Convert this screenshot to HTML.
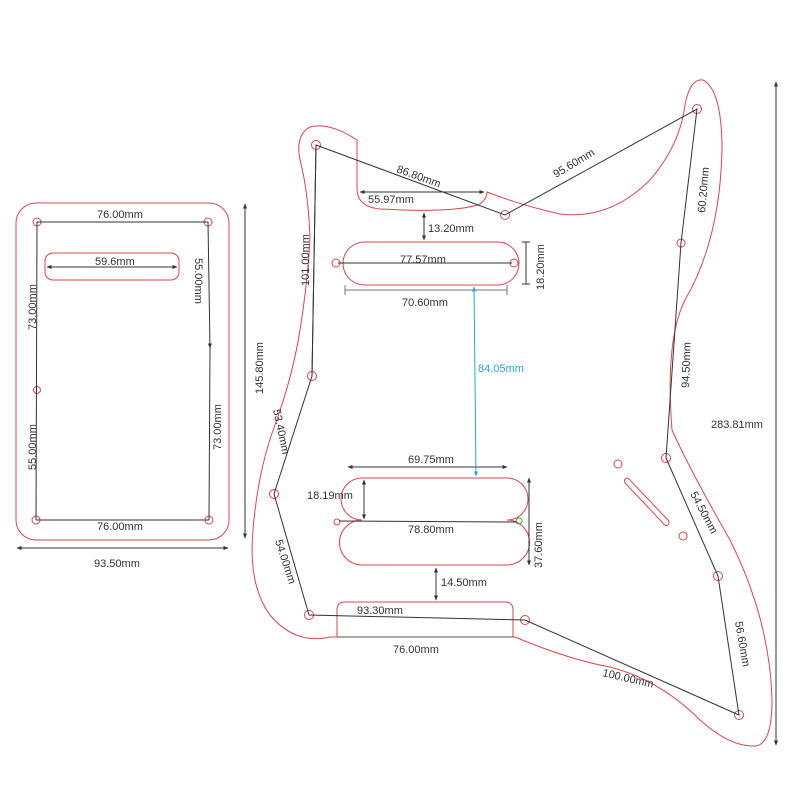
<!DOCTYPE html>
<html><head><meta charset="utf-8"><style>
html,body{margin:0;padding:0;background:#fff;width:800px;height:800px;overflow:hidden}
text{font-family:"Liberation Sans",sans-serif;font-size:11px;fill:#333}
</style></head><body>
<svg width="800" height="800" viewBox="0 0 800 800" xmlns="http://www.w3.org/2000/svg">
<defs>
<marker id="a" viewBox="0 0 10 10" refX="9" refY="5" markerWidth="5" markerHeight="5" orient="auto-start-reverse"><path d="M0,1 L10,5 L0,9z" fill="#333"/></marker>
<marker id="b" viewBox="0 0 10 10" refX="9" refY="5" markerWidth="5" markerHeight="5" orient="auto-start-reverse"><path d="M0,1 L10,5 L0,9z" fill="#2aa3d8"/></marker>
</defs>
<g fill="none" stroke="#d9474f" stroke-width="1">
<rect x="16" y="203" width="213" height="337" rx="20"/>
<rect x="45" y="253" width="134" height="27" rx="8"/>
<circle cx="37" cy="222" r="4"/><circle cx="208" cy="222" r="4"/><circle cx="36" cy="520" r="4"/><circle cx="209" cy="520" r="4"/><circle cx="37" cy="390" r="3.5"/>
<path d="M357,140 L357,190 Q358,207 380,209 Q450,213 478,205 Q487,200 487,192 Q520,205 560,214 Q610,220 650,180 Q680,145 685,105 Q690,78 703,80 Q722,90 722,150 Q720,240 685,300 Q665,340 672,430 Q690,470 730,540 Q770,620 772,700 Q772,745 755,746 Q730,747 700,720 Q660,680 610,667 Q570,660 515,637 L330,637 Q295,645 270,615 Q248,585 253,530 Q258,470 275,425 Q293,375 300,330 Q308,280 310,237 Q308,190 300,160 Q295,135 310,127 Q330,122 357,140 Z"/>
<rect x="343" y="242" width="176" height="43" rx="21.5"/>
<circle cx="336" cy="263" r="4"/><circle cx="514" cy="263" r="4"/>
<path d="M362,478 L507,478 A21,21 0 0 1 507,520 A21,21 0 0 1 507,565 L362,565 A21,21 0 0 1 362,520 A21,21 0 0 1 362,478 Z"/>
<circle cx="337" cy="522" r="3"/>
<path d="M337,637 L337,610 Q337,602 345,602 L505,602 Q513,602 513,610 L513,637"/>
<circle cx="316" cy="145" r="4.5"/><circle cx="505" cy="215" r="4.5"/><circle cx="697" cy="109" r="4.5"/><circle cx="681" cy="243" r="4"/>
<circle cx="312" cy="376" r="4.5"/><circle cx="274" cy="494" r="4.5"/><circle cx="309" cy="615" r="4.5"/><circle cx="525" cy="620" r="4.5"/>
<circle cx="666" cy="458" r="4.5"/><circle cx="718" cy="576" r="4.5"/><circle cx="739" cy="715" r="4.5"/>
<circle cx="618" cy="464" r="4"/><circle cx="683" cy="536" r="4"/>
<path d="M628,478 L666,518 Q671,522 668,525 Q665,527 662,522 L626,484 Q622,479 628,478 Z"/>
</g>
<circle cx="519" cy="521" r="3" fill="none" stroke="#3a3" stroke-width="1"/>
<g stroke="#333" stroke-width="1" fill="none">
<line x1="37" y1="222" x2="208" y2="222"/><line x1="36" y1="520" x2="209" y2="520"/>
<line x1="37" y1="222" x2="36" y2="520"/><line x1="208" y1="222" x2="210" y2="348" marker-end="url(#a)"/><line x1="210" y1="348" x2="209" y2="520"/>
<line x1="47" y1="267" x2="177" y2="267" marker-start="url(#a)" marker-end="url(#a)"/>
<line x1="245" y1="204" x2="245" y2="538" marker-start="url(#a)" marker-end="url(#a)"/>
<line x1="17" y1="548" x2="228" y2="548" marker-start="url(#a)" marker-end="url(#a)"/>
<path d="M316,145 L505,215 L697,109 L681,243 L666,458 L718,576 L739,715 L525,620 L309,615 L274,494 L312,376 Z"/>
<line x1="316" y1="145" x2="312" y2="376"/>
<line x1="360" y1="192" x2="484" y2="192" marker-start="url(#a)" marker-end="url(#a)"/>
<line x1="424" y1="213" x2="424" y2="240" marker-start="url(#a)" marker-end="url(#a)"/>
<line x1="338" y1="263" x2="512" y2="263"/>
<line x1="526" y1="242" x2="526" y2="284"/><line x1="522" y1="242" x2="530" y2="242"/><line x1="522" y1="284" x2="530" y2="284"/>
<line x1="345" y1="290" x2="507" y2="290" stroke="#777"/><line x1="345" y1="285" x2="345" y2="295" stroke="#777"/><line x1="507" y1="285" x2="507" y2="295" stroke="#777"/>
<line x1="348" y1="467" x2="507" y2="467" marker-start="url(#a)" marker-end="url(#a)"/>
<line x1="364" y1="480" x2="364" y2="519" marker-start="url(#a)" marker-end="url(#a)"/>
<line x1="339" y1="521" x2="517" y2="522"/>
<line x1="529" y1="478" x2="529" y2="565" marker-start="url(#a)" marker-end="url(#a)"/>
<line x1="436" y1="568" x2="436" y2="600" marker-start="url(#a)" marker-end="url(#a)"/>
<line x1="337" y1="637" x2="513" y2="637" stroke="#555"/>
<line x1="776" y1="82" x2="776" y2="745" marker-start="url(#a)" marker-end="url(#a)"/>
</g>
<line x1="474" y1="287" x2="476" y2="476" stroke="#2aa3d8" stroke-width="1" marker-start="url(#b)" marker-end="url(#b)"/>
<text x="97" y="218">76.00mm</text><text x="97" y="530">76.00mm</text>
<text x="95" y="265">59.6mm</text><text x="94" y="567">93.50mm</text>
<text transform="translate(36,330) rotate(-90)">73.00mm</text>
<text transform="translate(36,470) rotate(-90)">55.00mm</text>
<text transform="translate(195,258) rotate(90)">55.00mm</text>
<text transform="translate(221,450) rotate(-90)">73.00mm</text>
<text transform="translate(263,394) rotate(-90)">145.80mm</text>
<text transform="translate(396,172) rotate(20)">86.80mm</text>
<text x="368" y="203">55.97mm</text>
<text transform="translate(556,178) rotate(-31)">95.60mm</text>
<text x="428" y="232">13.20mm</text>
<text x="400" y="263">77.57mm</text>
<text transform="translate(544,290) rotate(-90)">18.20mm</text>
<text x="402" y="306">70.60mm</text>
<text transform="translate(309,286) rotate(-90)">101.00mm</text>
<text transform="translate(705,213) rotate(-85)">60.20mm</text>
<text x="478" y="372" style="fill:#2aa3d8">84.05mm</text>
<text transform="translate(689,388) rotate(-88)">94.50mm</text>
<text x="711" y="428">283.81mm</text>
<text transform="translate(273,410) rotate(78)">53.40mm</text>
<text x="408" y="463">69.75mm</text>
<text x="307" y="499">18.19mm</text>
<text x="408" y="533">78.80mm</text>
<text transform="translate(542,568) rotate(-90)">37.60mm</text>
<text transform="translate(275,541) rotate(72)">54.00mm</text>
<text x="441" y="586">14.50mm</text>
<text x="357" y="614">93.30mm</text>
<text x="393" y="653">76.00mm</text>
<text transform="translate(690,494) rotate(62)">54.50mm</text>
<text transform="translate(735,622) rotate(80)">56.60mm</text>
<text transform="translate(602,676) rotate(13)">100.00mm</text>
</svg>
</body></html>
